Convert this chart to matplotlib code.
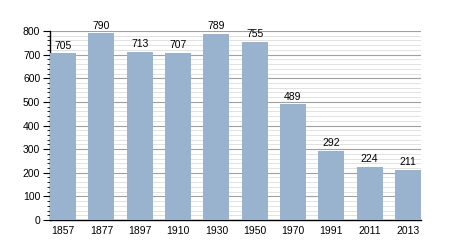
import matplotlib
matplotlib.use("Agg")
import matplotlib.pyplot as plt
from matplotlib.ticker import MultipleLocator

years = ["1857", "1877", "1897", "1910", "1930", "1950", "1970", "1991", "2011", "2013"]
population = [705, 790, 713, 707, 789, 755, 489, 292, 224, 211]

plt.rcParams['font.family'] = ['Liberation Sans', 'DejaVu Sans']
fig = plt.figure(figsize=(4.5, 2.5), dpi=100)
ax = fig.add_axes([50/450, 30/250, 371/450, 189/250])

x = list(range(len(years)))
w = 0.68
bars = ax.bar(x, population, width=w, color='#99b3cf', zorder=3)
for xi, v in zip(x, population):
    ax.text(xi, v + 12, str(v), ha='center', va='bottom', fontsize=7.5, zorder=4)

ax.set_xlim(-w/2, len(years) - 1 + w/2)
ax.set_ylim(0, 800)
ax.yaxis.set_major_locator(MultipleLocator(100))
ax.yaxis.set_minor_locator(MultipleLocator(20))
ax.grid(axis='y', which='major', color='#a0a0a0', linewidth=0.8, zorder=1)
ax.grid(axis='y', which='minor', color='#e2e2e2', linewidth=0.7, zorder=0)
ax.set_xticks(x)
ax.set_xticklabels(years)
ax.tick_params(axis='x', length=0, labelsize=7.5, pad=4)
ax.tick_params(axis='y', which='major', length=5, width=0.8, labelsize=7.5, pad=2)
ax.tick_params(axis='y', which='minor', length=2.5, width=0.6)
for s in ['top', 'right']:
    ax.spines[s].set_visible(False)
ax.spines['left'].set_linewidth(1.0)
ax.spines['bottom'].set_linewidth(1.0)
fig.savefig('out.png', dpi=100)
